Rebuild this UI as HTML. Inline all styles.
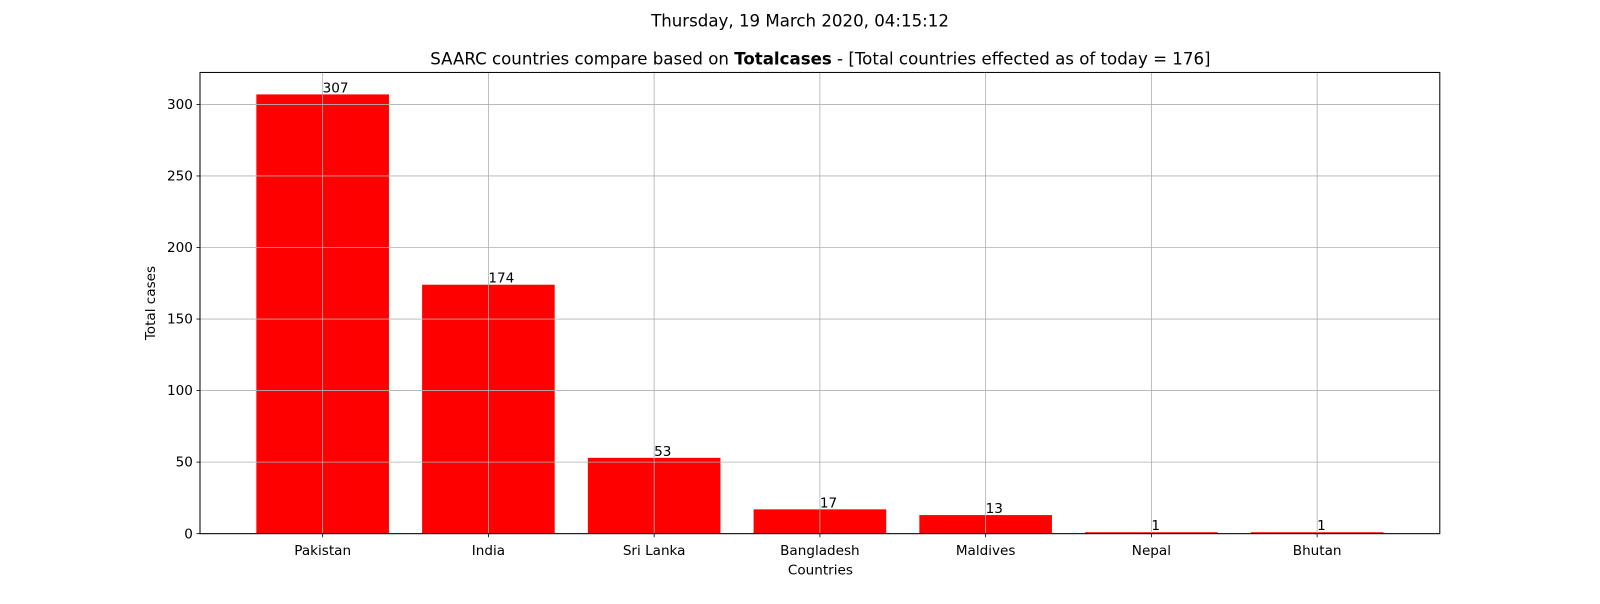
<!DOCTYPE html>
<html><head><meta charset="utf-8"><style>
body{margin:0;background:#fff;width:1600px;height:600px;overflow:hidden;font-family:"DejaVu Sans","Liberation Sans",sans-serif}
</style></head><body>
<svg id="chart" width="1600" height="600" viewBox="0 0 1568 588" preserveAspectRatio="none" xmlns="http://www.w3.org/2000/svg" font-family="DejaVu Sans, Liberation Sans, sans-serif">
<text x="784" y="26" font-size="16.3" text-anchor="middle">Thursday, 19 March 2020, 04:15:12</text>
<text x="804" y="63" font-size="16.3" text-anchor="middle">SAARC countries compare based on <tspan font-weight="bold">Totalcases</tspan> - [Total countries effected as of today = 176]</text>
<g id="plot"></g>
<text x="804" y="563" font-size="13.3" text-anchor="middle">Countries</text>
<text x="152" y="297" font-size="13.3" text-anchor="middle" transform="rotate(-90 152 297)">Total cases</text>
</svg>
<script>
const categories=["Pakistan","India","Sri Lanka","Bangladesh","Maldives","Nepal","Bhutan"];
const values=[307,174,53,17,13,1,1];
const yTicks=[0,50,100,150,200,250,300];
const L=196,R=1411,T=71,B=523;
const ymax=Math.max(...values)*1.05;
const xmin=-0.74,xmax=categories.length-1+0.74;
const xs=v=>L+(v-xmin)/(xmax-xmin)*(R-L);
const ys=v=>B-v/ymax*(B-T);
const NS="http://www.w3.org/2000/svg";
const g=document.getElementById('plot');
function mk(tag,attrs){const e=document.createElementNS(NS,tag);for(const k in attrs)e.setAttribute(k,attrs[k]);g.appendChild(e);return e;}
values.forEach((v,i)=>{
 const r=mk('rect',{x:xs(i-0.4),y:ys(v),width:xs(i+0.4)-xs(i-0.4),height:B-ys(v),fill:'#ff0000'});
 
 
});
yTicks.forEach(t=>{
 const l=mk('line',{x1:L,x2:R,y1:ys(t),y2:ys(t),stroke:'#b0b0b0','stroke-width':0.8});
 
 
 const tk=mk('line',{x1:L-3.5,x2:L,y1:ys(t),y2:ys(t),stroke:'#000','stroke-width':0.8});
 
 
 const tx=mk('text',{x:L-7,y:ys(t)+4.5,'font-size':13.3,'text-anchor':'end'});
 tx.textContent=t;
 
 
});
categories.forEach((c,i)=>{
 const l=mk('line',{x1:xs(i),x2:xs(i),y1:T,y2:B,stroke:'#b0b0b0','stroke-width':0.8});
 
 
 const tk=mk('line',{x1:xs(i),x2:xs(i),y1:B,y2:B+3.5,stroke:'#000','stroke-width':0.8});
 
 
 const tx=mk('text',{x:xs(i),y:B+21,'font-size':13.3,'text-anchor':'middle'});
 tx.textContent=c;
 
 
 const vl=mk('text',{x:xs(i),y:ys(values[i])-2,'font-size':13.3});
 vl.textContent=values[i];
 
 
});
const fr=mk('rect',{x:L,y:T,width:R-L,height:B-T,fill:'none',stroke:'#000','stroke-width':1});


</script>
</body></html>
